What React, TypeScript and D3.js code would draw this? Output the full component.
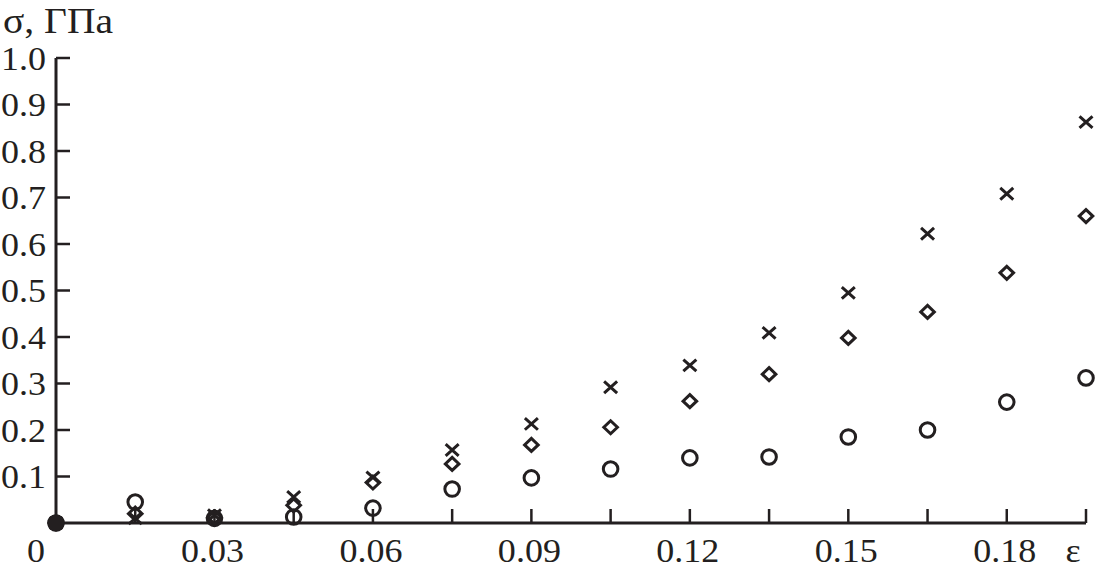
import React from "react";
import * as d3 from "d3";

const strain = [0, 0.015, 0.03, 0.045, 0.06, 0.075, 0.09, 0.105, 0.12, 0.135, 0.15, 0.165, 0.18, 0.195];
const crossSeries = [0, 0.01, 0.017, 0.056, 0.098, 0.157, 0.213, 0.292, 0.339, 0.409, 0.495, 0.622, 0.708, 0.862];
const diamondSeries = [0, 0.02, 0.012, 0.038, 0.087, 0.127, 0.168, 0.206, 0.262, 0.32, 0.398, 0.454, 0.538, 0.66];
const circleSeries = [0, 0.045, 0.01, 0.013, 0.032, 0.073, 0.097, 0.116, 0.14, 0.142, 0.185, 0.2, 0.26, 0.312];

const xTickValues = [0.015, 0.03, 0.045, 0.06, 0.075, 0.09, 0.105, 0.12, 0.135, 0.15, 0.165, 0.18, 0.195];
const xTickLabels = ["", "0.03", "", "0.06", "", "0.09", "", "0.12", "", "0.15", "", "0.18", ""];
const yTickValues = [0.1, 0.2, 0.3, 0.4, 0.5, 0.6, 0.7, 0.8, 0.9, 1.0];
const yTickLabels = ["0.1", "0.2", "0.3", "0.4", "0.5", "0.6", "0.7", "0.8", "0.9", "1.0"];

const W = 1104;
const H = 574;
const INK = "#231f20";
const FONT = "'Liberation Serif', 'Times New Roman', serif";
const FS = 34;
const SX = 1.06;

function Label({ x, y, anchor, children }: { x: number; y: number; anchor: string; children: any }) {
  return (
    <text
      x={0}
      y={0}
      transform={`translate(${x},${y}) scale(${SX},1)`}
      textAnchor={anchor}
      fontFamily={FONT}
      fontSize={FS}
      fill={INK}
    >
      {children}
    </text>
  );
}

export default function App() {
  const x = d3.scaleLinear().domain([0, 0.195]).range([56, 1086]);
  const y = d3.scaleLinear().domain([0, 1]).range([523, 58]);
  const tickLen = 14;

  const crossPath = (cx: number, cy: number) => {
    const hw = 6.5, hh = 5.8;
    return `M${cx - hw},${cy - hh}L${cx + hw},${cy + hh}M${cx - hw},${cy + hh}L${cx + hw},${cy - hh}`;
  };
  const diamondPath = (cx: number, cy: number) => {
    const hw = 6.8, hh = 6.5;
    return `M${cx},${cy - hh}L${cx + hw},${cy}L${cx},${cy + hh}L${cx - hw},${cy}Z`;
  };

  return (
    <svg width={W} height={H} style={{ position: "absolute", left: 0, top: 0, background: "#fff" }}>
      <rect x={0} y={0} width={W} height={H} fill="#fff" />
      <path
        d={`M${x(0)},${y(1)}L${x(0)},${y(0)}L${x(0.195)},${y(0)}`}
        fill="none"
        stroke={INK}
        strokeWidth={3}
      />
      {yTickValues.map((v, i) => (
        <g key={"yt" + i}>
          <line x1={x(0)} x2={x(0) + tickLen} y1={y(v)} y2={y(v)} stroke={INK} strokeWidth={2.5} />
          <Label x={46} y={y(v) + 11.5} anchor="end">
            {yTickLabels[i]}
          </Label>
        </g>
      ))}
      {xTickValues.map((v, i) => (
        <g key={"xt" + i}>
          <line x1={x(v)} x2={x(v)} y1={y(0)} y2={y(0) - tickLen} stroke={INK} strokeWidth={2.5} />
          {xTickLabels[i] && (
            <Label x={x(v) - 2} y={562} anchor="middle">
              {xTickLabels[i]}
            </Label>
          )}
        </g>
      ))}
      <Label x={36} y={562} anchor="middle">
        0
      </Label>
      <Label x={1073} y={562} anchor="middle">
        ε
      </Label>
      <text
        x={3}
        y={33}
        textAnchor="start"
        fontFamily={FONT}
        fontSize={35}
        fill={INK}
        textLength={110}
        lengthAdjust="spacingAndGlyphs"
      >
        σ, ГПа
      </text>

      {strain.map((e, i) => (
        <circle
          key={"c" + i}
          cx={x(e)}
          cy={y(circleSeries[i])}
          r={7.3}
          fill="none"
          stroke={INK}
          strokeWidth={3}
        />
      ))}
      {strain.map((e, i) => (
        <path
          key={"d" + i}
          d={diamondPath(x(e), y(diamondSeries[i]))}
          fill="none"
          stroke={INK}
          strokeWidth={3}
          strokeLinejoin="miter"
        />
      ))}
      {strain.map((e, i) => (
        <path key={"x" + i} d={crossPath(x(e), y(crossSeries[i]))} fill="none" stroke={INK} strokeWidth={3} />
      ))}
      <circle cx={x(strain[0])} cy={y(circleSeries[0])} r={8.5} fill={INK} />
    </svg>
  );
}
